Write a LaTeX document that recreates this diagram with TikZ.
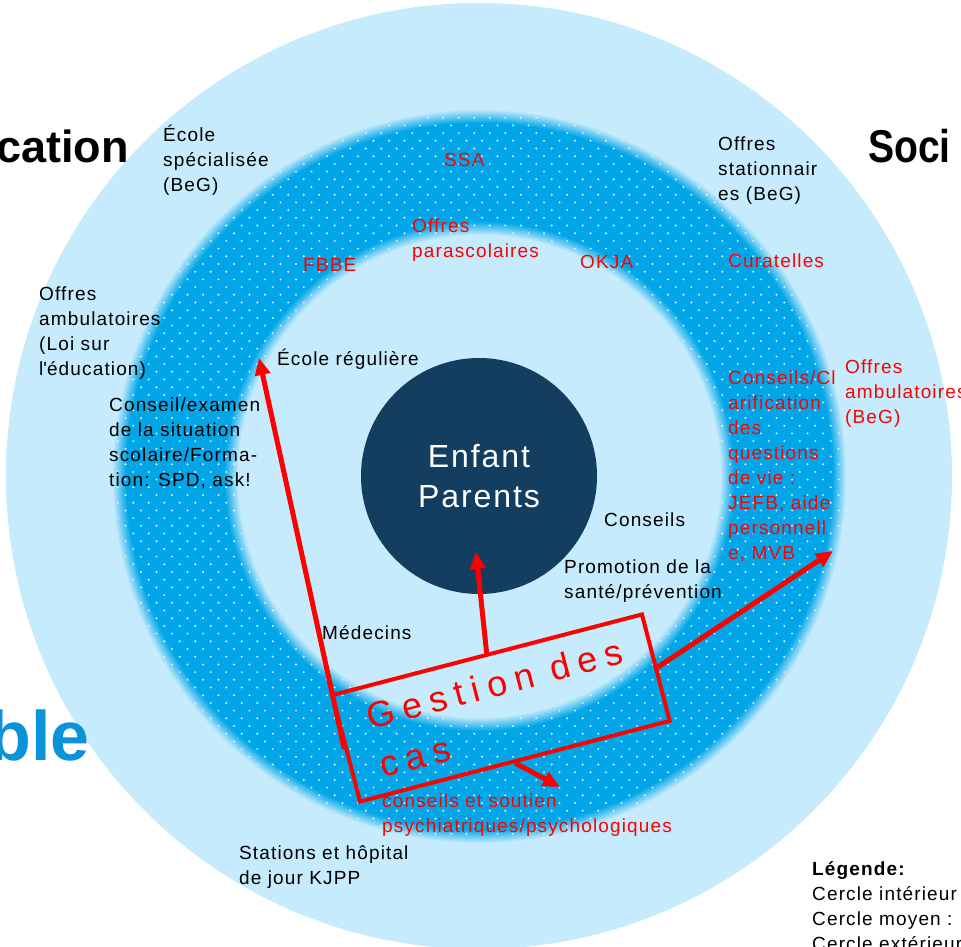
\documentclass[tikz,border=0pt]{standalone}
\usepackage{fontspec}
\setmainfont{Liberation Sans}[LetterSpace=6]
\usetikzlibrary{arrows.meta}
\definecolor{skyl}{HTML}{C6EBFC}
\definecolor{ringblue}{HTML}{00A6E8}
\definecolor{navy}{HTML}{133E5F}
\definecolor{titleblue}{HTML}{0A93D8}
\pgfdeclareradialshading{ringshade}{\pgfpoint{0bp}{0bp}}{color(0bp)=(skyl); color(12.74bp)=(skyl); color(13.48bp)=(ringblue); color(18.66bp)=(ringblue); color(19.4bp)=(skyl); color(25bp)=(skyl); color(50bp)=(skyl)}
\newcommand{\lblfont}{\fontsize{19}{25}\selectfont}
\newcommand{\bigfont}{\fontsize{48}{50}\selectfont\bfseries\addfontfeature{LetterSpace=0}}
\newcommand{\casefont}{\fontsize{36}{50}\selectfont\addfontfeature{LetterSpace=22}}

\begin{document}
\begin{tikzpicture}[yscale=-1, x=1pt, y=1pt,
    lbl/.style={anchor=base west, align=left, inner sep=0pt, font=\lblfont},
    redlbl/.style={lbl, text=red},
    big/.style={inner sep=0pt, font=\bigfont},
    arr/.style={draw=red, line width=5pt, -{Triangle[length=17pt, width=15pt]}}]
    \fill[white] (0,0) rectangle (961,947);
    \useasboundingbox (0,0) rectangle (961,947);

    \shade[shading=ringshade] (479,476) circle (473pt);
    \begin{scope}[even odd rule]
        \clip (479,476) circle (364pt) (479,476) circle (244pt);
        \foreach \r [evaluate=\r as \off using {mod(\r,2)*7.75}] in {0,...,95}
            \foreach \c in {0,...,47}
                \fill[white!85!ringblue] ({110+\c*15.5+\off}, {110+\r*7.7}) circle (1.1pt);
    \end{scope}

    \node[circle, fill=navy, minimum size=236pt, inner sep=0pt, text=white, align=center, font=\fontsize{32}{40}\selectfont] (enfant) at (479,476) {Enfant\\Parents};

    \node[big, anchor=base east, font=\bigfont\fontsize{45}{50}\selectfont] (educ) at (129,163) {cation};
    \node[big, anchor=base west, font=\bigfont\fontsize{46}{50}\selectfont\addfontfeature{FakeStretch=0.85}] (soci) at (868,163) {Soci};
    \node[big, anchor=base east, text=titleblue, font=\bigfont\fontsize{70}{72}\selectfont] (ble) at (90,760) {ble};

    % multi-line labels: anchor is the baseline of the last line
    \node[lbl] (ecolespec) at (163,191.5) {École\\spécialisée\\(BeG)};
    \node[lbl] (offambedu) at (39,375) {Offres\\ambulatoires\\(Loi sur\\l\textquotesingle éducation)};
    \node[lbl] (conseilexam) at (109,486) {Conseil/examen\\de la situation\\scolaire/Forma-\\tion: SPD, ask!};
    \node[lbl] (ecolereg) at (277,365) {École régulière};
    \node[lbl] (medecins) at (322,639) {Médecins};
    \node[lbl] (stations) at (239,884) {Stations et hôpital\\de jour KJPP};
    \node[lbl] (offstat) at (718,200.5) {Offres\\stationnair\\es (BeG)};
    \node[lbl] (conseils) at (604,526) {Conseils};
    \node[lbl] (promo) at (564,598) {Promotion de la\\santé/prévention};
    \node[lbl] (legende) at (812,950) {\textbf{Légende:}\\Cercle intérieur\\Cercle moyen :\\Cercle extérieur};

    \node[redlbl] (ssa) at (444,166) {SSA};
    \node[redlbl] (offpara) at (412,257) {Offres\\parascolaires};
    \node[redlbl] (fbbe) at (303,271) {FBBE};
    \node[redlbl] (okja) at (580,268) {OKJA};
    \node[redlbl] (curatelles) at (728,267) {Curatelles};
    \node[redlbl] (conscl) at (728,559) {Conseils/Cl\\arification\\des\\questions\\de vie :\\JEFB, aide\\personnell\\e, MVB};
    \node[redlbl] (offambsoc) at (845,423) {Offres\\ambulatoires\\(BeG)};
    \node[redlbl] (psy) at (382,832) {conseils et soutien\\psychiatriques/psychologiques};

    \node[draw=red, line width=4pt, minimum width=320pt, minimum height=110pt, rotate=14.6, align=left, text=red, font=\casefont, inner sep=0pt] (case) at (501,708) {Gestion des\\cas};

    \coordinate (ecoletip) at (259,358);
    \coordinate (enfanttip) at (476,552);
    \coordinate (socialtip) at (833,551);
    \coordinate (psytip) at (560,787);

    \draw[arr] (case.west) -- (ecoletip);
    \draw[arr] (case.north) -- (enfanttip);
    \draw[arr] (case.east) -- (socialtip);
    \draw[arr] (case.south) -- (psytip);
\end{tikzpicture}
\end{document}
